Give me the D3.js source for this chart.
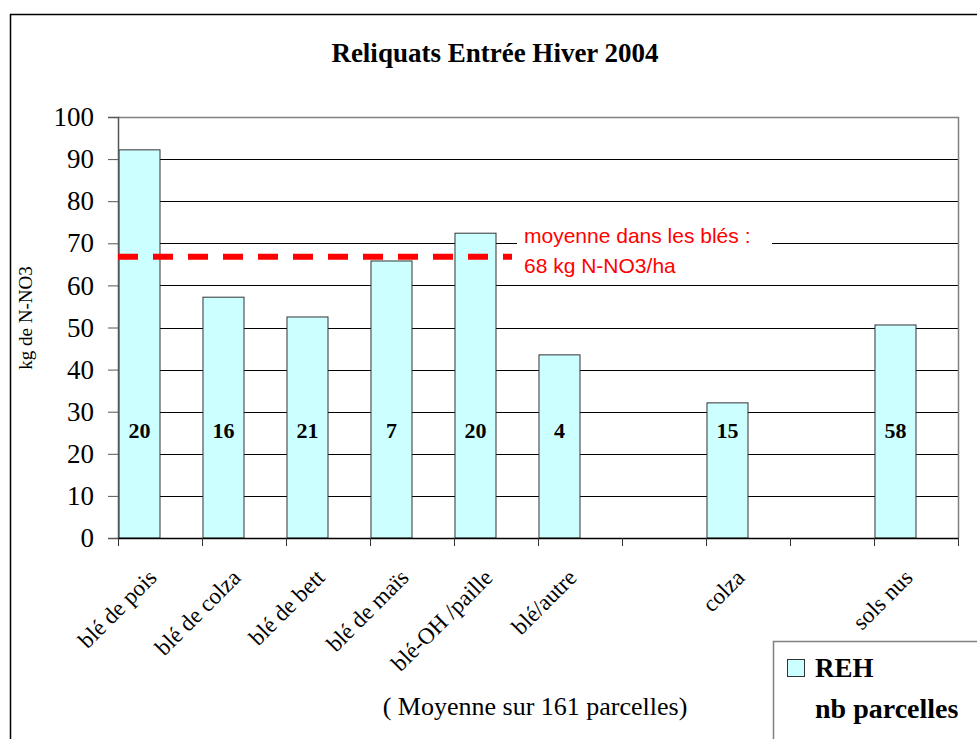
<!DOCTYPE html>
<html>
<head>
<meta charset="utf-8">
<script src="https://d3js.org/d3.v7.min.js"></script>
<style>
  body { margin: 0; background: white; }
  svg { display: block; }
</style>
</head>
<body>
<svg id="chart"></svg>
<script>
// chart data
var categories = ["blé de pois", "blé de colza", "blé de bett", "blé de maïs", "blé-OH /paille", "blé/autre", "", "colza", "", "sols nus"];
var rehValues = [92.2, 57.2, 52.5, 65.8, 72.4, 43.5, null, 32.1, null, 50.6];
var nbParcelles = [20, 16, 21, 7, 20, 4, null, 15, null, 58];
var yTicks = [0, 10, 20, 30, 40, 50, 60, 70, 80, 90, 100];
var series = ["REH", "nb parcelles"];
var moyenneBles = 66.8;

var width = 977, height = 739;
var margin = {top: 117, right: 19, bottom: 201, left: 118};
var serif = '"Liberation Serif", "Times New Roman", serif';

var svg = d3.select('#chart')
    .attr('width', width)
    .attr('height', height)
    .style('font-family', serif);

// outer frame
svg.append('rect')
    .attr('x', 10.5).attr('y', 14.5)
    .attr('width', width).attr('height', height)
    .attr('fill', 'white')
    .attr('stroke', 'black')
    .attr('stroke-width', 1.5);

var x = d3.scaleBand()
    .domain(d3.range(categories.length))
    .range([margin.left, width - margin.right])
    .paddingInner(0).paddingOuter(0);

var xSub = d3.scaleBand()
    .domain(series)
    .range([0, x.bandwidth()])
    .paddingInner(0).paddingOuter(0.024);

var y = d3.scaleLinear()
    .domain([0, 100])
    .range([height - margin.bottom, margin.top]);

var plotRight = width - margin.right;

// gridlines
svg.append('g')
    .selectAll('line')
    .data(yTicks.filter(function(d) { return d > 0 && d < 100; }))
    .enter().append('line')
    .attr('x1', margin.left).attr('x2', plotRight)
    .attr('y1', function(d) { return Math.round(y(d)) + 0.5; })
    .attr('y2', function(d) { return Math.round(y(d)) + 0.5; })
    .attr('stroke', 'black')
    .attr('stroke-width', 1);

// plot area border (top/right)
svg.append('path')
    .attr('d', 'M' + margin.left + ',' + (Math.round(y(100)) + 0.5) + 'H' + (plotRight + 0.5) + 'V' + y(0))
    .attr('fill', 'none')
    .attr('stroke', '#808080')
    .attr('stroke-width', 1.5);

// bars
svg.append('g')
    .selectAll('rect')
    .data(rehValues.map(function(v, i) { return {i: i, v: v}; }).filter(function(d) { return d.v != null; }))
    .enter().append('rect')
    .attr('x', function(d) { return x(d.i) + xSub('REH'); })
    .attr('y', function(d) { return y(d.v); })
    .attr('width', xSub.bandwidth())
    .attr('height', function(d) { return y(0) - y(d.v); })
    .attr('fill', '#CCFFFF')
    .attr('stroke', '#333')
    .attr('stroke-width', 1);

// nb parcelles labels
svg.append('g')
    .selectAll('text')
    .data(nbParcelles.map(function(v, i) { return {i: i, v: v}; }).filter(function(d) { return d.v != null; }))
    .enter().append('text')
    .attr('x', function(d) { return x(d.i) + xSub('REH') + xSub.bandwidth() / 2; })
    .attr('y', y(25) + 5)
    .attr('text-anchor', 'middle')
    .attr('font-size', 22)
    .attr('font-weight', 'bold')
    .text(function(d) { return d.v; });

// y axis
var yAxis = svg.append('g')
    .attr('transform', 'translate(' + margin.left + ',0)')
    .call(d3.axisLeft(y).tickValues(yTicks).tickSize(10).tickPadding(14));
yAxis.select('.domain').attr('stroke', '#555').attr('stroke-width', 1.5);
yAxis.selectAll('.tick line').attr('stroke', '#555');
yAxis.selectAll('text')
    .attr('font-size', 27)
    .attr('font-family', serif)
    .attr('fill', 'black');

// x axis
var xAxis = svg.append('g')
    .attr('transform', 'translate(0,' + y(0) + ')');
xAxis.append('line')
    .attr('x1', margin.left).attr('x2', plotRight + 0.5)
    .attr('y1', 0.5).attr('y2', 0.5)
    .attr('stroke', 'black').attr('stroke-width', 1.5);
xAxis.selectAll('.tk')
    .data(d3.range(categories.length + 1))
    .enter().append('line')
    .attr('class', 'tk')
    .attr('x1', function(d) { return Math.round(margin.left + d * x.step()) + 0.5; })
    .attr('x2', function(d) { return Math.round(margin.left + d * x.step()) + 0.5; })
    .attr('y1', 0).attr('y2', 8)
    .attr('stroke', '#333');
xAxis.selectAll('.lbl')
    .data(categories.map(function(c, i) { return {c: c, i: i}; }))
    .enter().append('text')
    .attr('class', 'lbl')
    .attr('transform', function(d) {
      return 'translate(' + (x(d.i) + x.bandwidth() / 2 - 2) + ',' + 41 + ') rotate(-45)';
    })
    .attr('text-anchor', 'end')
    .attr('font-size', 23)
    .text(function(d) { return d.c; });

// mean line
svg.append('line')
    .attr('x1', margin.left).attr('x2', 512)
    .attr('y1', y(moyenneBles)).attr('y2', y(moyenneBles))
    .attr('stroke', '#FF0000')
    .attr('stroke-width', 6)
    .attr('stroke-dasharray', '20,15');

svg.append('rect')
    .attr('x', 517).attr('y', 228)
    .attr('width', 255).attr('height', 52)
    .attr('fill', 'white');
var note = svg.append('text')
    .attr('fill', '#FF0000')
    .attr('font-size', 21)
    .attr('font-family', '"Liberation Sans", Arial, sans-serif');
note.append('tspan').attr('x', 524).attr('y', 243).text('moyenne dans les blés :');
note.append('tspan').attr('x', 524).attr('y', 273).text('68 kg N-NO3/ha');

// title
svg.append('text')
    .attr('x', 495).attr('y', 62)
    .attr('text-anchor', 'middle')
    .attr('font-size', 27)
    .attr('font-weight', 'bold')
    .text('Reliquats Entrée Hiver 2004');

// y label
svg.append('text')
    .attr('transform', 'translate(32,318) rotate(-90)')
    .attr('text-anchor', 'middle')
    .attr('font-size', 19)
    .text('kg de N-NO3');

// subtitle
svg.append('text')
    .attr('x', 535).attr('y', 715)
    .attr('text-anchor', 'middle')
    .attr('font-size', 26)
    .text('( Moyenne sur 161 parcelles)');

// legend
var legend = svg.append('g');
legend.append('rect')
    .attr('x', 773.5).attr('y', 641.5)
    .attr('width', 300).attr('height', 200)
    .attr('fill', 'white')
    .attr('stroke', '#808080')
    .attr('stroke-width', 1.5);
legend.append('rect')
    .attr('x', 787.5).attr('y', 659.5)
    .attr('width', 17).attr('height', 17)
    .attr('fill', '#CCFFFF')
    .attr('stroke', '#333');
legend.append('text')
    .attr('x', 815).attr('y', 677)
    .attr('font-size', 27)
    .attr('font-weight', 'bold')
    .text(series[0]);
legend.append('text')
    .attr('x', 815).attr('y', 718)
    .attr('font-size', 28)
    .attr('font-weight', 'bold')
    .text(series[1]);
</script>
</body>
</html>
